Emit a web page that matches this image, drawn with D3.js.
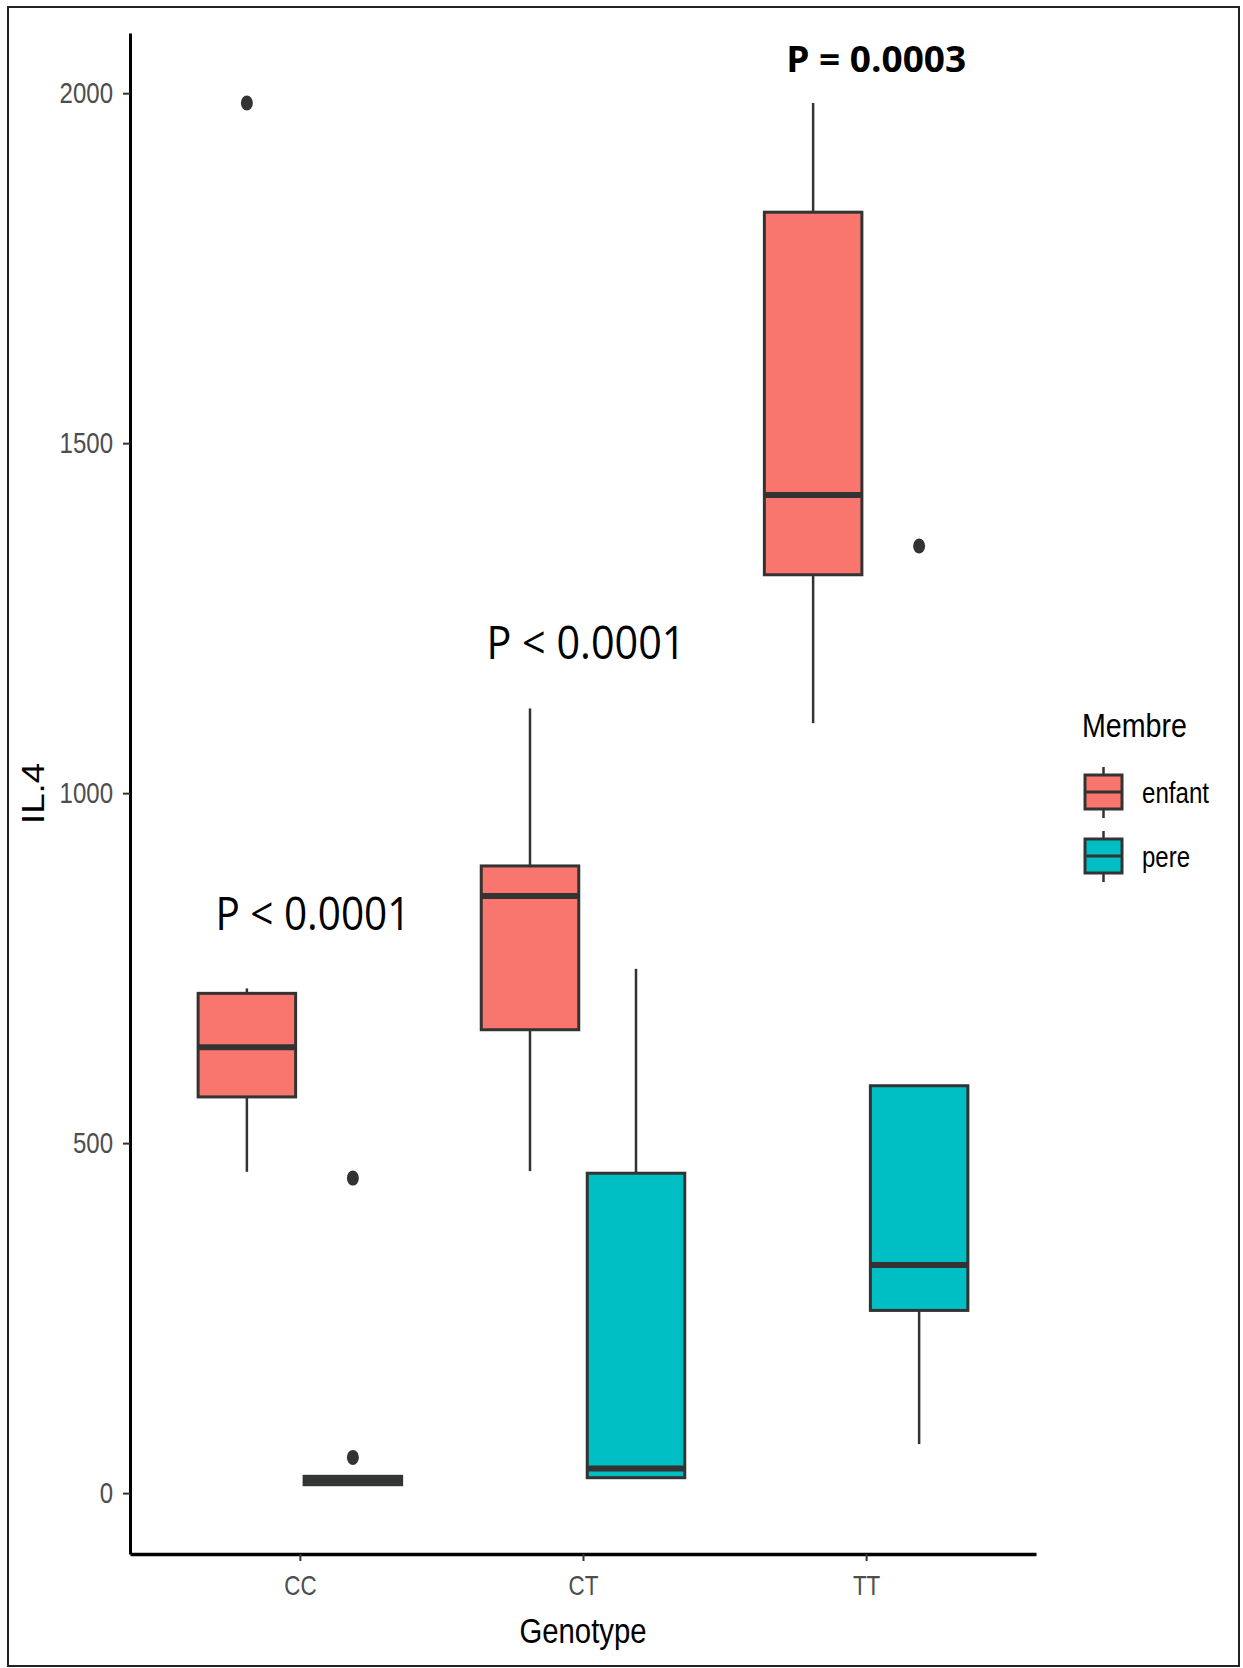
<html>
  <head>
    <script src="https://cdnjs.cloudflare.com/ajax/libs/d3/7.8.5/d3.min.js"></script>
    <style>
      body { margin: 0; background: #fff; }
      svg { display: block; }
      .axis text { font-family: 'Liberation Sans', Arial, sans-serif; fill: #4d4d4d; }
      .title { font-family: 'Liberation Sans', Arial, sans-serif; fill: #000; }
      .plab { font-family: 'Open Sans', sans-serif; fill: #000; }
    </style>
  </head>
  <body>
    <svg id="chart"></svg>
    <script>
      // data
      const genotypes = ['CC', 'CT', 'TT'];
      const membres = ['enfant', 'pere'];
      const colors = ['#F8766D', '#00BFC4'];

      // one entry per box: CC-enfant, CC-pere, CT-enfant, CT-pere, TT-enfant, TT-pere
      const boxGenotype = ['CC', 'CC', 'CT', 'CT', 'TT', 'TT'];
      const boxMembre   = ['enfant', 'pere', 'enfant', 'pere', 'enfant', 'pere'];
      const whiskerLow  = [459, 12, 460, 22, 1100, 70];
      const q1          = [566, 12, 662, 22, 1312, 261];
      const median      = [637, 18, 853, 35, 1426, 326];
      const q3          = [714, 24, 896, 457, 1830, 582];
      const whiskerHigh = [721, 24, 1121, 749, 1986, 582];

      const outlierGenotype = ['CC', 'CC', 'CC', 'TT'];
      const outlierMembre   = ['enfant', 'pere', 'pere', 'pere'];
      const outlierValue    = [1986, 450, 51, 1353];

      const yTicks = [0, 500, 1000, 1500, 2000];

      const pText     = ['P < 0.0001', 'P < 0.0001', 'P = 0.0003'];
      const pGenotype = ['CC', 'CT', 'TT'];
      const pValueY   = [804, 1191, 2030];

      const W = 1243, H = 1668;
      const svg = d3.select('#chart').attr('width', W).attr('height', H);

      // outer frame
      svg.append('rect')
        .attr('x', 8).attr('y', 7).attr('width', 1231).attr('height', 1659)
        .attr('fill', 'none').attr('stroke', '#222').attr('stroke-width', 2);

      const x = d3.scalePoint().domain(genotypes).range([130, 1036]).padding(0.6);
      const dodge = d3.scaleBand().domain(membres).range([-106, 106]);
      const y = d3.scaleLinear().domain([-87, 2086]).range([1554, 33]);
      const fill = d3.scaleOrdinal().domain(membres).range(colors);

      const boxW = dodge.bandwidth() * 0.92;
      const cx = (g, m) => x(g) + dodge(m) + dodge.bandwidth() / 2;

      const boxes = boxGenotype.map((g, i) => ({
        g, m: boxMembre[i], lo: whiskerLow[i], q1: q1[i], med: median[i], q3: q3[i], hi: whiskerHigh[i]
      }));

      const gb = svg.append('g');
      const b = gb.selectAll('g.box').data(boxes).enter().append('g').attr('class', 'box');

      // whiskers
      b.append('line')
        .attr('x1', d => cx(d.g, d.m)).attr('x2', d => cx(d.g, d.m))
        .attr('y1', d => y(d.hi)).attr('y2', d => y(d.q3))
        .attr('stroke', '#333').attr('stroke-width', 2.5);
      b.append('line')
        .attr('x1', d => cx(d.g, d.m)).attr('x2', d => cx(d.g, d.m))
        .attr('y1', d => y(d.q1)).attr('y2', d => y(d.lo))
        .attr('stroke', '#333').attr('stroke-width', 2.5);
      // box
      b.append('rect')
        .attr('x', d => cx(d.g, d.m) - boxW / 2)
        .attr('width', boxW)
        .attr('y', d => y(d.q3))
        .attr('height', d => y(d.q1) - y(d.q3))
        .attr('fill', d => fill(d.m))
        .attr('stroke', '#333').attr('stroke-width', 3);
      // median
      b.append('line')
        .attr('x1', d => cx(d.g, d.m) - boxW / 2).attr('x2', d => cx(d.g, d.m) + boxW / 2)
        .attr('y1', d => y(d.med)).attr('y2', d => y(d.med))
        .attr('stroke', '#333').attr('stroke-width', 6);

      // outliers
      gb.selectAll('ellipse').data(outlierValue).enter().append('ellipse')
        .attr('cx', (d, i) => cx(outlierGenotype[i], outlierMembre[i]))
        .attr('cy', d => y(d))
        .attr('rx', 6).attr('ry', 7.5)
        .attr('fill', '#333');

      // axes
      const yAxis = svg.append('g').attr('class', 'axis')
        .attr('transform', 'translate(130,0)')
        .call(d3.axisLeft(y).tickValues(yTicks).tickFormat(d3.format('d'))
          .tickSize(7).tickSizeOuter(0).tickPadding(10));
      yAxis.select('.domain').attr('stroke', '#000').attr('stroke-width', 3);
      yAxis.selectAll('.tick line').attr('stroke', '#333').attr('stroke-width', 2);
      yAxis.selectAll('text').attr('font-size', 30);

      const xAxis = svg.append('g').attr('class', 'axis')
        .attr('transform', 'translate(0,1554)')
        .call(d3.axisBottom(x).tickSize(7).tickSizeOuter(0).tickPadding(14));
      xAxis.select('.domain').attr('stroke', '#000').attr('stroke-width', 3.5);
      xAxis.selectAll('.tick line').attr('stroke', '#333').attr('stroke-width', 2);
      xAxis.selectAll('text').attr('font-size', 28);

      // squeeze text horizontally like the source
      function squeeze(sel, f) {
        sel.each(function() {
          const w = this.getComputedTextLength();
          d3.select(this).attr('textLength', w * f).attr('lengthAdjust', 'spacingAndGlyphs');
        });
      }
      squeeze(yAxis.selectAll('text'), 0.8);
      squeeze(xAxis.selectAll('text'), 0.8);

      // axis titles
      svg.append('text').attr('class', 'title')
        .attr('x', 583).attr('y', 1643)
        .attr('text-anchor', 'middle').attr('font-size', 35)
        .attr('textLength', 127).attr('lengthAdjust', 'spacingAndGlyphs')
        .text('Genotype');

      svg.append('text').attr('class', 'title')
        .attr('transform', 'translate(44,' + ((y.range()[0] + y.range()[1]) / 2) + ') rotate(-90)')
        .attr('text-anchor', 'middle').attr('font-size', 31)
        .attr('textLength', 61).attr('lengthAdjust', 'spacingAndGlyphs')
        .text('IL.4');

      // p-value labels
      const pShift = [13, 3, 10];
      const pSize = [46, 46, 36];
      const pLen = [195, 199, 180];
      svg.selectAll('text.plab').data(pText).enter().append('text')
        .attr('class', 'plab')
        .attr('x', (d, i) => x(pGenotype[i]) + pShift[i])
        .attr('y', (d, i) => y(pValueY[i]))
        .attr('text-anchor', 'middle')
        .attr('font-size', (d, i) => pSize[i])
        .attr('font-weight', (d, i) => i === 2 ? 'bold' : 'normal')
        .attr('textLength', (d, i) => pLen[i])
        .attr('lengthAdjust', 'spacingAndGlyphs')
        .text(d => d);

      // legend
      const leg = svg.append('g').attr('transform', 'translate(1082,0)');
      leg.append('text').attr('class', 'title')
        .attr('x', 0).attr('y', 737).attr('font-size', 33)
        .attr('textLength', 105).attr('lengthAdjust', 'spacingAndGlyphs')
        .text('Membre');

      const keyTop = [775, 839];
      const labLen = [67, 48];
      const items = leg.selectAll('g.key').data(membres).enter().append('g').attr('class', 'key')
        .attr('transform', (d, i) => 'translate(0,' + keyTop[i] + ')');
      items.append('line')
        .attr('x1', 21.5).attr('x2', 21.5).attr('y1', -8).attr('y2', 43)
        .attr('stroke', '#333').attr('stroke-width', 2.5);
      items.append('rect')
        .attr('x', 3).attr('y', 0).attr('width', 37).attr('height', 34)
        .attr('fill', d => fill(d)).attr('stroke', '#333').attr('stroke-width', 3);
      items.append('line')
        .attr('x1', 3).attr('x2', 40).attr('y1', 17).attr('y2', 17)
        .attr('stroke', '#333').attr('stroke-width', 3);
      items.append('text').attr('class', 'title')
        .attr('x', 60).attr('y', 28).attr('font-size', 30)
        .attr('fill', '#000')
        .attr('textLength', (d, i) => labLen[i]).attr('lengthAdjust', 'spacingAndGlyphs')
        .text(d => d);
    </script>
  </body>
</html>
